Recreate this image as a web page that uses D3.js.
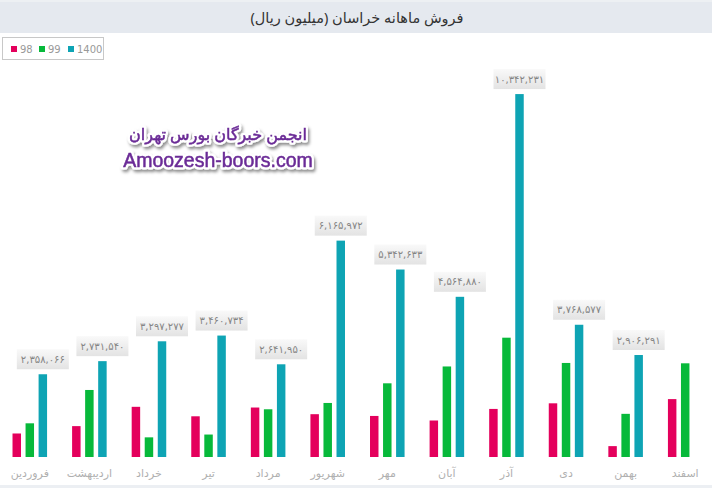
<!DOCTYPE html>
<html>
<head>
<meta charset="utf-8">
<script src="https://cdn.jsdelivr.net/npm/d3@7"></script>
<style>
  html, body { margin: 0; padding: 0; background: #ffffff; }
  svg { display: block; }
</style>
</head>
<body>
<svg id="chart" width="712" height="488"></svg>
<script>
// Monthly sales of Khorasan, million rial
const months = ["فروردین", "اردیبهشت", "خرداد", "تیر", "مرداد", "شهریور", "مهر", "آبان", "آذر", "دی", "بهمن", "اسفند"];
const seriesNames = ["98", "99", "1400"];
const colors = ["#e4005c", "#07b93a", "#0ea4b4"];
const sales98 = [670000, 880000, 1430000, 1160000, 1410000, 1220000, 1170000, 1040000, 1370000, 1530000, 310000, 1650000];
const sales99 = [960000, 1910000, 560000, 640000, 1360000, 1540000, 2100000, 2580000, 3400000, 2680000, 1230000, 2670000];
const sales1400 = [2358066, 2731540, 3297277, 3460734, 2641950, 6165972, 5342633, 4564880, 10342231, 3768577, 2906291, null];
const yMax = 11000000;

const title = "فروش ماهانه خراسان (میلیون ریال)";
const watermarkFa = "انجمن خبرگان بورس تهران";
const watermarkEn = "Amoozesh-boors.com";

const W = 712, H = 488;
const svg = d3.select("#chart");

// Persian digits for the value labels
const faDigits = "۰۱۲۳۴۵۶۷۸۹";
const toFa = s => s.replace(/[0-9]/g, d => faDigits[+d]);
const fmt = v => toFa(d3.format(",")(v));

const defs = svg.append("defs");
const grad = defs.append("linearGradient").attr("id", "lblGrad").attr("x1", 0).attr("y1", 0).attr("x2", 0).attr("y2", 1);
grad.append("stop").attr("offset", "0%").attr("stop-color", "#f9f9f9");
grad.append("stop").attr("offset", "100%").attr("stop-color", "#e3e3e3");

const shadow = defs.append("filter").attr("id", "wmShadow").attr("x", "-10%").attr("y", "-30%").attr("width", "120%").attr("height", "170%");
shadow.append("feDropShadow").attr("dx", 1.5).attr("dy", 2.5).attr("stdDeviation", 1.6).attr("flood-color", "#000").attr("flood-opacity", 0.45);

// title band
svg.append("rect").attr("x", 0).attr("y", 0).attr("width", W).attr("height", 33).attr("fill", "#e5e9ef");
svg.append("rect").attr("x", 0).attr("y", 0).attr("width", W).attr("height", 2).attr("fill", "#edf0f3");
svg.append("text")
  .attr("x", 357).attr("y", 17)
  .attr("text-anchor", "middle").attr("dominant-baseline", "central")
  .attr("font-family", "'Noto Sans', 'DejaVu Sans', sans-serif")
  .attr("font-size", 14.5).attr("fill", "#333")
  .attr("direction", "rtl")
  .text(title);

// bottom strip
svg.append("rect").attr("x", 0).attr("y", 485).attr("width", W).attr("height", 3).attr("fill", "#eceff3");

// scales
const x0 = d3.scaleBand().domain(months).range([0, 715]).paddingInner(0.42).paddingOuter(0.21);
const x1 = d3.scaleBand().domain(seriesNames).range([0, x0.bandwidth()]).paddingInner(0.35);
const y = d3.scaleLinear().domain([0, yMax]).range([457, 71]);

const seriesData = [sales98, sales99, sales1400];

const groups = svg.append("g").selectAll("g")
  .data(months).join("g")
  .attr("transform", m => `translate(${x0(m)},0)`);

groups.selectAll("rect")
  .data((m, i) => seriesNames.map((s, k) => ({ s, k, v: seriesData[k][i] })).filter(d => d.v != null))
  .join("rect")
  .attr("x", d => x1(d.s))
  .attr("width", x1.bandwidth())
  .attr("y", d => y(d.v))
  .attr("height", d => y(0) - y(d.v))
  .attr("fill", d => colors[d.k]);

// value labels above the 1400 bars
const lbl = svg.append("g");
months.forEach((m, i) => {
  const v = sales1400[i];
  if (v == null) return;
  const cx = x0(m) + x1("1400") + x1.bandwidth() / 2;
  const top = y(v);
  const bw = 52, bh = 20;
  lbl.append("rect")
    .attr("x", cx - bw / 2).attr("y", top - 5 - bh)
    .attr("width", bw).attr("height", bh)
    .attr("fill", "url(#lblGrad)");
  lbl.append("text")
    .attr("x", cx).attr("y", top - 5 - bh / 2)
    .attr("text-anchor", "middle").attr("dominant-baseline", "central")
    .attr("font-family", "'DejaVu Sans', sans-serif")
    .attr("font-size", 10).attr("fill", "#858585")
    .text(fmt(v));
});

// x axis labels
const xAxis = d3.axisBottom(x0).tickSize(0).tickPadding(10);
const ax = svg.append("g").attr("transform", "translate(0,459)").call(xAxis);
ax.select(".domain").remove();
ax.selectAll("text")
  .attr("font-family", "'DejaVu Sans', sans-serif")
  .attr("font-size", 11).attr("fill", "#b0b0b0")
  .attr("direction", "rtl");

// legend
const leg = svg.append("g");
leg.append("rect").attr("x", 2.5).attr("y", 37.5).attr("width", 101).attr("height", 22)
  .attr("fill", "#fff").attr("stroke", "#c8c8c8");
const legX = [11, 39, 68];
seriesNames.forEach((s, k) => {
  leg.append("rect").attr("x", legX[k]).attr("y", 46).attr("width", 6).attr("height", 6).attr("fill", colors[k]);
  leg.append("text").attr("x", legX[k] + 9).attr("y", 49.5)
    .attr("dominant-baseline", "central")
    .attr("font-family", "'DejaVu Sans', sans-serif")
    .attr("font-size", 10).attr("fill", "#999")
    .text(s);
});

// watermark: white halo, drop shadow, purple fill
const wm = svg.append("g").attr("filter", "url(#wmShadow)");
const wmText = (txt, yy, fam, size, rtl) => {
  const base = wm.append("g");
  base.append("text")
    .attr("x", 218).attr("y", yy)
    .attr("text-anchor", "middle").attr("dominant-baseline", "central")
    .attr("font-family", fam).attr("font-size", size)
    .attr("fill", "#fff").attr("stroke", "#fff").attr("stroke-width", 5)
    .attr("stroke-linejoin", "round")
    .attr("direction", rtl ? "rtl" : "ltr")
    .text(txt);
  base.append("text")
    .attr("x", 218).attr("y", yy)
    .attr("text-anchor", "middle").attr("dominant-baseline", "central")
    .attr("font-family", fam).attr("font-size", size)
    .attr("fill", "#6a2a96").attr("stroke", "#6a2a96").attr("stroke-width", 0.5)
    .attr("direction", rtl ? "rtl" : "ltr")
    .text(txt);
};
wmText(watermarkFa, 134, "'Noto Sans', 'DejaVu Sans', sans-serif", 16, true);
wmText(watermarkEn, 160, "'Liberation Sans', Arial, sans-serif", 19.5, false);
</script>
</body>
</html>
